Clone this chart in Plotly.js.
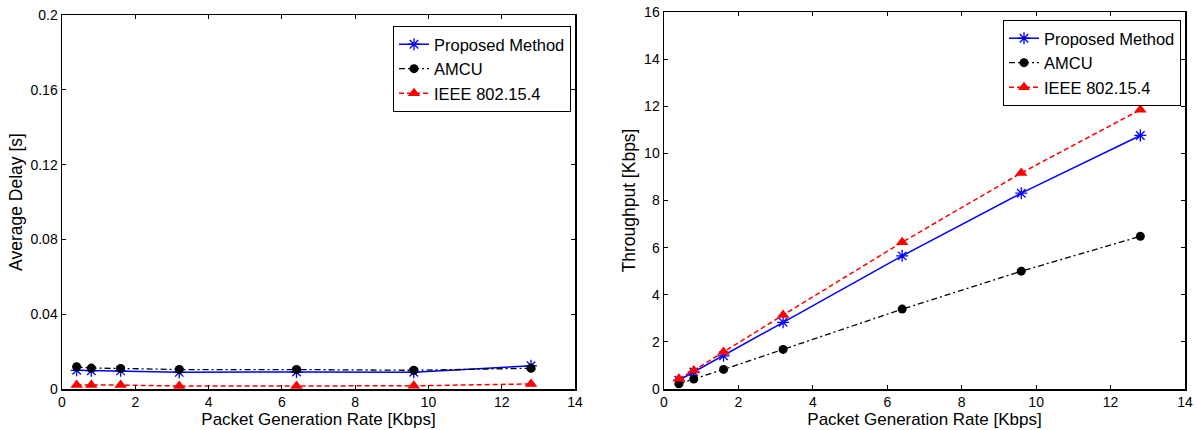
<!DOCTYPE html>
<html>
<head>
<meta charset="utf-8">
<script src="https://cdn.plot.ly/plotly-3.0.1.min.js"></script>
<style>html,body{margin:0;padding:0;background:#fff;}#chart{width:1199px;height:430px;}</style>
</head>
<body>
<div id="chart"></div>
<script>
// Data
const rate = [0.4, 0.8, 1.6, 3.2, 6.4, 9.6, 12.8];
const delayProposed = [0.0100, 0.0098, 0.0097, 0.0089, 0.0091, 0.0090, 0.0124];
const delayAMCU     = [0.0119, 0.0112, 0.0110, 0.0104, 0.0104, 0.0100, 0.0111];
const delayIEEE     = [0.0022, 0.0022, 0.0021, 0.0016, 0.0016, 0.0017, 0.0027];
const thrProposed = [0.37, 0.72, 1.41, 2.83, 5.65, 8.31, 10.76];
const thrAMCU     = [0.22, 0.42, 0.83, 1.68, 3.39, 5.00, 6.48];
const thrIEEE     = [0.43, 0.79, 1.57, 3.14, 6.23, 9.17, 11.85];
const seriesNames = ['Proposed Method', 'AMCU', 'IEEE 802.15.4'];

const W = 1199, H = 430;
const styles = [
  {line: {color: '#0000ff', width: 1.5, dash: 'solid'}, marker: {symbol: 'asterisk-open', size: 10, color: '#0000ff', line: {color: '#0000ff', width: 1.3}}},
  {line: {color: '#000000', width: 1.3, dash: '6px,3px,2px,3px'}, marker: {symbol: 'circle', size: 9, color: '#000000'}},
  {line: {color: '#ff0000', width: 1.5, dash: '5px,3px'}, marker: {symbol: 'triangle-up', size: 11, color: '#ff0000'}}
];

function mk(y, i, xa, ya, leg) {
  return {x: rate, y: y, name: seriesNames[i], type: 'scatter', mode: 'lines+markers',
    xaxis: xa, yaxis: ya, legend: leg, line: styles[i].line, marker: styles[i].marker};
}

const traces = [
  mk(delayProposed, 0, 'x', 'y', 'legend'),
  mk(delayAMCU, 1, 'x', 'y', 'legend'),
  mk(delayIEEE, 2, 'x', 'y', 'legend'),
  mk(thrProposed, 0, 'x2', 'y2', 'legend2'),
  mk(thrAMCU, 1, 'x2', 'y2', 'legend2'),
  mk(thrIEEE, 2, 'x2', 'y2', 'legend2')
];

const fontFam = 'Liberation Sans, Arial, sans-serif';
const axCommon = {
  showline: true, linecolor: '#000', linewidth: 1.5, mirror: 'ticks',
  ticks: 'inside', ticklen: 4, tickwidth: 1, tickcolor: '#000',
  showgrid: false, zeroline: false, fixedrange: true,
  tickfont: {family: fontFam, size: 14, color: '#000'}
};

const layout = {
  width: W, height: H,
  margin: {l: 0, r: 0, t: 0, b: 0},
  paper_bgcolor: '#fff', plot_bgcolor: '#fff',
  font: {family: fontFam, color: '#000'},
  xaxis: Object.assign({}, axCommon, {
    domain: [62 / W, 575 / W], range: [0, 14], dtick: 2, tick0: 0, anchor: 'y',
    title: {text: 'Packet Generation Rate [Kbps]', font: {family: fontFam, size: 17, color: '#000'}, standoff: 2}
  }),
  yaxis: Object.assign({}, axCommon, {
    domain: [1 - 389 / H, 1 - 15 / H], range: [0, 0.2], dtick: 0.04, tick0: 0, anchor: 'x',
    title: {text: 'Average Delay [s]', font: {family: fontFam, size: 17.5, color: '#000'}, standoff: 3}
  }),
  xaxis2: Object.assign({}, axCommon, {
    domain: [664 / W, 1185 / W], range: [0, 14], dtick: 2, tick0: 0, anchor: 'y2',
    title: {text: 'Packet Generation Rate [Kbps]', font: {family: fontFam, size: 17, color: '#000'}, standoff: 2}
  }),
  yaxis2: Object.assign({}, axCommon, {
    domain: [1 - 389 / H, 1 - 12 / H], range: [0, 16], dtick: 2, tick0: 0, anchor: 'x2',
    title: {text: 'Throughput [Kbps]', font: {family: fontFam, size: 17.5, color: '#000'}, standoff: 4}
  }),
  legend: {
    x: 571 / W, y: 1 - 26 / H, xanchor: 'right', yanchor: 'top',
    bgcolor: '#fff', bordercolor: '#000', borderwidth: 1,
    font: {family: fontFam, size: 16.5, color: '#000'}, tracegroupgap: 0
  },
  legend2: {
    x: 1181 / W, y: 1 - 20 / H, xanchor: 'right', yanchor: 'top',
    bgcolor: '#fff', bordercolor: '#000', borderwidth: 1,
    font: {family: fontFam, size: 16.5, color: '#000'}, tracegroupgap: 0
  },
  showlegend: true
};

Plotly.newPlot('chart', traces, layout, {displayModeBar: false, staticPlot: true});
</script>
</body>
</html>
